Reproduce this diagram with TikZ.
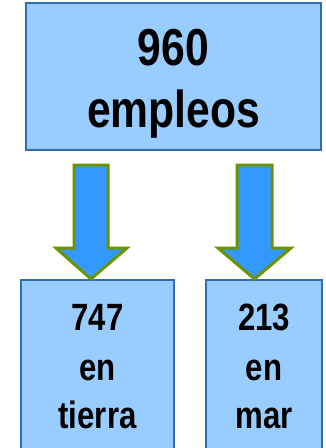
\documentclass[tikz,border=0pt]{standalone}
\usepackage{fontspec}
\setmainfont{Liberation Sans}[FakeStretch=0.82]
\definecolor{boxfill}{HTML}{99CCFF}
\definecolor{boxline}{HTML}{2F6EB5}
\definecolor{arrfill}{HTML}{3399FF}
\definecolor{arrline}{HTML}{6B9400}
\tikzset{
  box/.style={draw=boxline, fill=boxfill, line width=1.8pt},
  arr/.style={draw=arrline, fill=arrfill, line width=3pt, miter limit=10},
  bigtxt/.style={font=\fontsize{52}{62}\selectfont\bfseries, anchor=base, inner sep=0pt},
  smalltxt/.style={font=\fontsize{38}{49}\selectfont\bfseries, anchor=base, inner sep=0pt}
}
\begin{document}
\begin{tikzpicture}[x=1pt,y=-1pt]
\useasboundingbox (0,0) rectangle (325,448);
\clip (0,0) rectangle (325,448);
% top box
\draw[box] (26,3) rectangle (321,150);
\node[bigtxt] (n960) at (173.5,65) {960};
\node[bigtxt] (nemp) at (173.5,127) {empleos};
% bottom boxes
\draw[box] (21,280) rectangle (174,470);
\draw[box] (206,280) rectangle (322,470);
\node[smalltxt] (a1) at (97.5,330) {747};
\node[smalltxt] (a2) at (97.5,380) {en};
\node[smalltxt] (a3) at (97.5,428) {tierra};
\node[smalltxt] (b1) at (264,330) {213};
\node[smalltxt] (b2) at (264,380) {en};
\node[smalltxt] (b3) at (264,428) {mar};
% arrows
\draw[arr] (74,165) -- (108,165) -- (108,248) -- (127,248) -- (91,279) -- (56,248) -- (74,248) -- cycle;
\draw[arr] (237,165) -- (272,165) -- (272,248) -- (291,248) -- (254.5,279) -- (218,248) -- (237,248) -- cycle;
\end{tikzpicture}
\end{document}
